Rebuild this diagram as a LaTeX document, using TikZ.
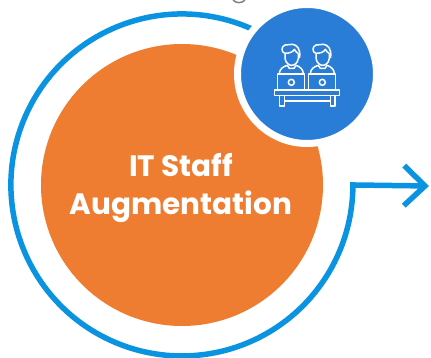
\documentclass[tikz,border=0pt]{standalone}
\usepackage{fontspec}
\setmainfont{Poppins}
\usetikzlibrary{arrows.meta}
\definecolor{ringblue}{HTML}{0A93E0}
\definecolor{iconblue}{HTML}{2A7DD6}
\definecolor{staffor}{HTML}{EE7D31}
\begin{document}
\begin{tikzpicture}[x=1pt,y=-1pt]
\tikzstyle{ring}= [draw=ringblue,line width=5.5pt,miter limit=10]
\tikzstyle{bb}= [circle,inner sep=0pt]
\tikzstyle{ln}= [white,line width=1.5pt,line join=round]
\useasboundingbox (0,0) rectangle (431,358);

% grey bit at the top edge
\draw[gray,line width=1.5pt] (233,0) .. controls (236,3.5) and (242,3.5) .. (245,0);

\coordinate (c) at (182,185);
\coordinate (ringstart) at (252,29);
\coordinate (ringend) at (353,186);
\coordinate (tip) at (429,186);

\draw[ring,-{Straight Barb[length=21pt,width=40pt,line width=5.5pt]}]
	(ringstart) arc[start angle=-65.8,end angle=-360,radius=171] -- (tip);

\path
	(c) node[bb,fill=staffor,minimum size=282pt] (staff) {}
	(307,74) node[bb,fill=iconblue,draw=white,line width=7pt,minimum size=139pt] (icon) {}
;
\node[white,font=\bfseries\fontsize{29.5}{38}\selectfont,align=center,anchor=center] (lbl) at (181,188) {IT Staff\\Augmentation};

% people at the desk
\begin{scope}[shift={(230,0)},scale=1/3]
\foreach \dx in {0,93} {
	\begin{scope}[xshift=\dx*1pt]
	\draw[ln] (165,160) -- (165,175) .. controls (167,190) and (178,196) .. (185,196) .. controls (193,196) and (203,190) .. (205,175) -- (205,160);
	\draw[ln] (165,160) .. controls (154,158) and (152,140) .. (165,135) -- (188,133) .. controls (200,135) and (212,145) .. (209,172) -- (205,172);
	\draw[ln] (165,160) .. controls (180,160) and (190,155) .. (193,148) .. controls (197,155) and (202,160) .. (205,160);
	\draw[ln] (148,222) .. controls (148,208) and (158,200) .. (172,196) -- (178,205) -- (192,205) -- (198,196) .. controls (210,200) and (220,208) .. (220,222);
	\draw[ln] (143,222) rectangle (224,268);
	\draw[ln] (184,247) circle[radius=9];
	\end{scope}
}
\draw[ln] (133,270) rectangle (328,286);
\draw[ln] (148,286) -- (148,318) -- (163,318) -- (163,286);
\draw[ln] (302,286) -- (302,318) -- (315,318) -- (315,286);
\draw[ln] (163,303) -- (302,303);
\end{scope}
\end{tikzpicture}
\end{document}
